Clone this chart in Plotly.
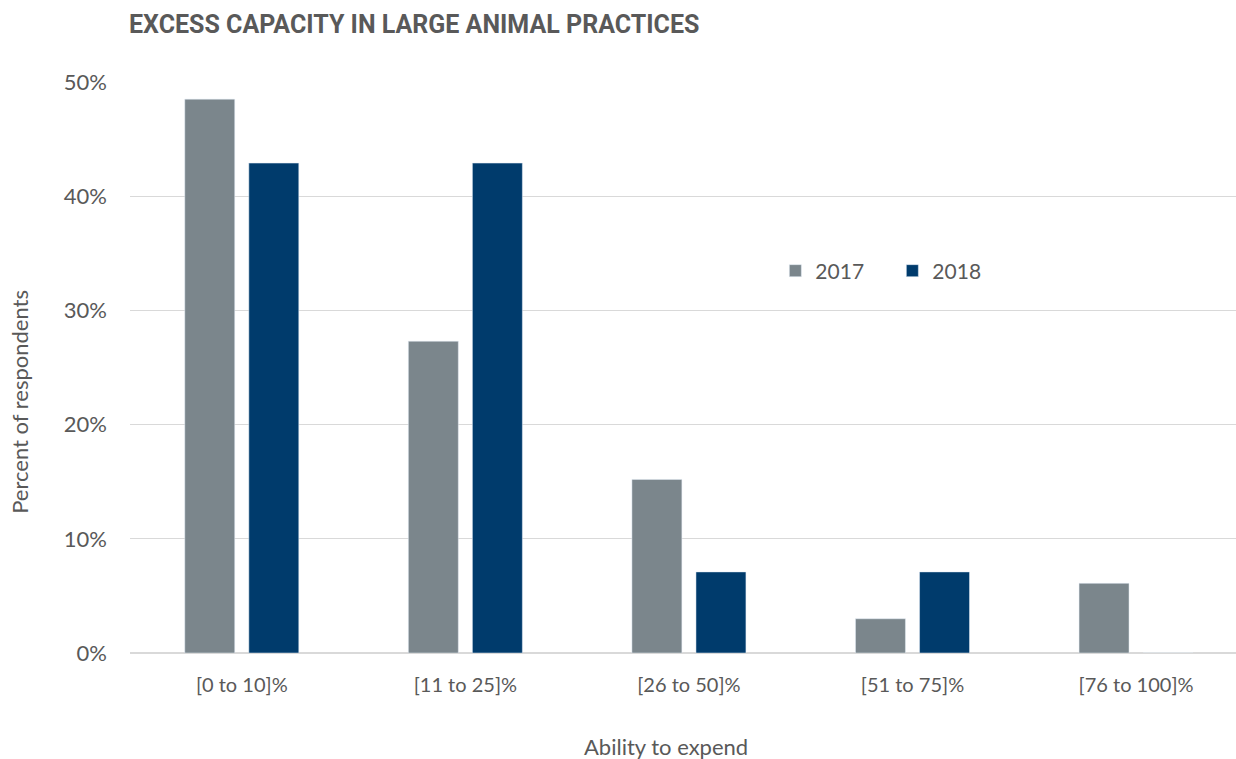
import plotly.graph_objects as go

categories = ["[0 to 10]%", "[11 to 25]%", "[26 to 50]%", "[51 to 75]%", "[76 to 100]%"]
values_2017 = [0.485, 0.273, 0.152, 0.030, 0.061]
values_2018 = [0.429, 0.429, 0.071, 0.071, 0.0]

GRAY = "#7b868c"
NAVY = "#003b6c"
TEXT = "#595959"
FONT = "Lato"

fig = go.Figure()
fig.add_trace(go.Bar(name="2017", x=categories, y=values_2017, marker_color=GRAY))
fig.add_trace(go.Bar(name="2018", x=categories, y=values_2018, marker_color=NAVY))

fig.update_layout(
    width=1236,
    height=759,
    paper_bgcolor="white",
    plot_bgcolor="white",
    margin=dict(l=130, r=0, t=82, b=106),
    barmode="group",
    bargap=0.427,
    bargroupgap=0.22,
    font=dict(family=FONT, color=TEXT, size=20),
    showlegend=True,
    legend=dict(
        orientation="h",
        x=0.5835, y=0.669, xanchor="left", yanchor="middle",
        font=dict(size=21, color=TEXT),
        itemwidth=30,
        entrywidth=72,
        entrywidthmode="pixels",
        traceorder="normal",
        bgcolor="rgba(0,0,0,0)",
    ),
    xaxis=dict(
        range=[-0.5, 4.447],
        showgrid=False,
        showline=False,
        ticks="",
        tickfont=dict(size=20, color=TEXT),
        ticklabelstandoff=18,
    ),
    yaxis=dict(
        range=[0, 0.5],
        tickvals=[0, 0.1, 0.2, 0.3, 0.4, 0.5],
        tickformat=".0%",
        showgrid=True,
        gridcolor="#d9d9d9",
        gridwidth=1,
        zeroline=True,
        zerolinecolor="#d9d9d9",
        zerolinewidth=2,
        ticks="",
        ticklabelstandoff=22,
        tickfont=dict(size=22, color=TEXT),
    ),
    annotations=[
        dict(
            text="<b>EXCESS CAPACITY IN LARGE ANIMAL PRACTICES</b>",
            xref="paper", yref="paper", x=-0.003, y=1.0, yshift=58,
            xanchor="left", yanchor="middle", showarrow=False,
            font=dict(family="Roboto", size=25, color=TEXT),
        ),
        dict(
            text="Percent of respondents",
            xref="paper", yref="paper", x=0, xshift=-110, y=0.44,
            xanchor="center", yanchor="middle", textangle=-90, showarrow=False,
            font=dict(size=22, color=TEXT),
        ),
        dict(
            text="Ability to expend",
            xref="paper", yref="paper", x=0.4845, y=0, yshift=-93,
            xanchor="center", yanchor="middle", showarrow=False,
            font=dict(size=22, color=TEXT),
        ),
    ],
)

fig.write_html("out.html")
